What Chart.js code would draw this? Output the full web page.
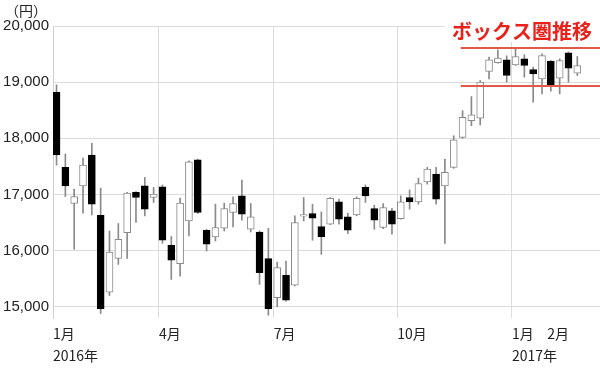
<!DOCTYPE html>
<html><head><meta charset="utf-8">
<script src="https://cdn.jsdelivr.net/npm/chart.js@4/dist/chart.umd.min.js"></script>
<style>html,body{margin:0;padding:0;background:#fff;}</style>
</head><body>
<canvas id="c" width="600" height="375"></canvas>
<script>
// Weekly candles (week index 0 = week of 2016-01-04)
const weeks = ["2016-01-04","2016-01-12","2016-01-18","2016-01-25","2016-02-01","2016-02-08","2016-02-15","2016-02-22","2016-02-29","2016-03-07",
"2016-03-14","2016-03-22","2016-03-28","2016-04-04","2016-04-11","2016-04-18","2016-04-25","2016-05-02","2016-05-09","2016-05-16",
"2016-05-23","2016-05-30","2016-06-06","2016-06-13","2016-06-20","2016-06-27","2016-07-04","2016-07-11","2016-07-19","2016-07-25",
"2016-08-01","2016-08-08","2016-08-15","2016-08-22","2016-08-29","2016-09-05","2016-09-12","2016-09-20","2016-09-26","2016-10-03",
"2016-10-11","2016-10-17","2016-10-24","2016-10-31","2016-11-07","2016-11-14","2016-11-21","2016-11-28","2016-12-05","2016-12-12",
"2016-12-19","2016-12-26","2017-01-04","2017-01-10","2017-01-16","2017-01-23","2017-01-30","2017-02-06","2017-02-13","2017-02-20"];
const open  = [18821,17482,16839,17154,17702,16630,15261,15863,16321,17036,
17154,16946,17136,16095,15768,16529,17618,16363,16243,16398,
16679,16975,16380,16332,15857,15161,15559,15386,16615,16661,
16429,16470,16868,16600,16636,17125,16750,16411,16707,16571,
16946,16868,17225,17363,17154,17482,18018,18314,18357,19189,
19345,19398,19309,19416,19225,19059,19375,19071,19523,19161];
const high  = [18952,17720,17095,17648,17911,17113,16350,16482,17040,17050,
17304,17125,17170,16250,16934,17600,17630,16380,16827,16845,
16957,17255,16839,16350,16398,15796,15814,16618,16946,16827,
16690,16946,16916,16666,16957,17171,16809,16839,16755,16975,
17082,17291,17482,17482,17630,18046,18493,18743,19029,19446,
19577,19470,19595,19488,19268,19505,19386,19416,19536,19457];
const low   = [17523,16964,16023,16666,16636,14880,15200,15755,15863,16500,
16618,16857,16130,15487,15546,16262,16660,15993,16171,16350,
16421,16541,16332,15398,14850,15000,15100,15370,16529,16184,
15934,16460,16470,16304,16620,16857,16380,16393,16291,16560,
16738,16827,17184,16827,16130,17465,18000,18225,18237,19059,
19340,19000,19297,19089,18643,18791,18839,18791,19000,19118];
const close = [17702,17154,16964,17523,16827,14964,15975,16202,17023,16946,
16738,17005,16184,15832,16845,17582,16679,16113,16411,16750,
16839,16648,16600,15607,14964,15696,15118,16500,16640,16577,
16250,16929,16559,16363,16929,16975,16541,16768,16470,16868,
16868,17196,17452,16916,17393,17975,18375,18416,19000,19398,
19429,19118,19457,19297,19148,19475,18957,19386,19250,19297];

// Axis ticks
const yTickValues = [15000,16000,17000,18000,19000,20000];
const monthTickWeeks = [0, 12, 25, 39, 52, 56];
const monthTickLabels = [["1月","2016年"], "4月", "7月", "10月", ["1月","2017年"], "2月"];
const monthGridShown = [true, true, true, true, true, false];

// Box range annotation
const boxLevels = [19610, 18930];
const boxStartWeek = 45.8;
const boxTitle = "ボックス圏推移";
const unitLabel = "（円）";

const X_MIN = -0.4, X_MAX = 61.57, TICK_SHIFT = -0.4;

const isUp = i => close[i] >= open[i];
const bodyData = weeks.map((w,i)=>({x:i, y:[Math.min(open[i],close[i]), Math.max(open[i],close[i])]}));
const wickData = weeks.map((w,i)=>({x:i, y:[low[i], high[i]]}));

const overlay = {
  id:'overlay',
  beforeDatasetsDraw(chart){
    const {ctx, chartArea} = chart;
    ctx.save();
    ctx.fillStyle = '#fff';
    ctx.fillRect(chartArea.right-155, chartArea.top-10, 155, 26);
    ctx.font = "bold 20px 'Noto Sans CJK JP', sans-serif";
    ctx.fillStyle = '#e8211b';
    ctx.textAlign = 'right';
    ctx.textBaseline = 'middle';
    ctx.fillText(boxTitle, chartArea.right-8, chartArea.top+5);
    ctx.restore();
  },
  afterDraw(chart){
    const {ctx, chartArea} = chart;
    ctx.save();
    ctx.font = "14px 'Noto Sans CJK JP', sans-serif";
    ctx.fillStyle = '#222';
    ctx.textAlign = 'center';
    ctx.textBaseline = 'middle';
    ctx.fillText(unitLabel, 26, 11);
    ctx.restore();
  }
};

const boxLine = v => ({type:'line', data:[{x:boxStartWeek,y:v},{x:X_MAX,y:v}], borderColor:'#e05a48', borderWidth:2, pointRadius:0, fill:false, order:0});

new Chart(document.getElementById('c'), {
  type:'bar',
  data:{datasets:[
    boxLine(boxLevels[0]),
    boxLine(boxLevels[1]),
    {data: bodyData, grouped:false, order:1, barThickness:7, borderWidth:1, borderSkipped:false,
     backgroundColor: c => isUp(c.dataIndex) ? '#ffffff' : '#000000',
     borderColor: c => isUp(c.dataIndex) ? '#8a8a8a' : '#000000'},
    {data: wickData, grouped:false, order:2, barThickness:1, backgroundColor:'#8a8a8a', borderWidth:0}
  ]},
  options:{
    responsive:false, animation:false,
    layout:{padding:{top:26, right:0, left:0, bottom:0}},
    plugins:{legend:{display:false}, tooltip:{enabled:false}},
    scales:{
      x:{type:'linear', min:X_MIN, max:X_MAX, offset:false,
         grid:{offset:false, drawTicks:false, color: c => (c.type==='tick' || c.tick) && monthGridShown[c.index] ? '#dcdcdc' : 'rgba(0,0,0,0)'},
         border:{display:false},
         afterBuildTicks: s => { s.ticks = monthTickWeeks.map(w => ({value: Math.max(X_MIN, w + TICK_SHIFT)})); },
         afterFit: s => { s.height = 57; },
         ticks:{autoSkip:false, maxRotation:0, align:'start', padding:4, color:'#222',
                font:{family:"'Noto Sans CJK JP', sans-serif", size:14, lineHeight:1.6},
                callback:(v,i)=>monthTickLabels[i]}
      },
      y:{min:14800, max:20000,
         grid:{drawTicks:false, color:'#dcdcdc'},
         border:{color:'#cfcfcf'},
         afterBuildTicks: s => { s.ticks = yTickValues.map(v=>({value:v})); },
         afterFit: s => { s.width = 53; },
         ticks:{padding:4, color:'#222', font:{family:"'Liberation Sans', Arial, sans-serif", size:15},
                callback: v => v.toLocaleString('en-US')}
      }
    }
  },
  plugins:[overlay]
});
</script>
</body></html>
